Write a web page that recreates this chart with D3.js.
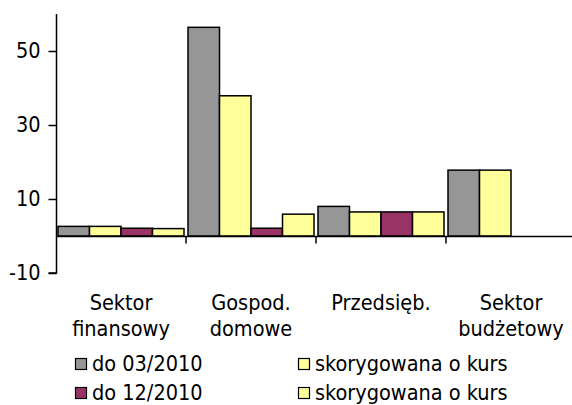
<!DOCTYPE html>
<html>
<head>
<meta charset="utf-8">
<script src="https://cdn.jsdelivr.net/npm/d3@7"></script>
<style>
  body { margin: 0; background: #fff; }
  svg text { font-family: "DejaVu Sans Condensed", "DejaVu Sans", sans-serif; font-stretch: condensed; fill: #000; }
</style>
</head>
<body>
<div id="chart"></div>
<script>
// categories (label lines)
let categories = [["Sektor", "finansowy"], ["Gospod.", "domowe"], ["Przedsięb."], ["Sektor", "budżetowy"]]
let seriesNames = ["do 03/2010", "skorygowana o kurs", "do 12/2010", "skorygowana o kurs"]
let grey0310 = [2.6, 56.4, 8.0, 17.8]
let adj0310 = [2.6, 37.9, 6.5, 17.8]
let purple1210 = [2.1, 2.1, 6.5, null]
let adj1210 = [2.0, 5.9, 6.5, null]
let yTicks = [-10, 10, 30, 50]

let seriesValues = [grey0310, adj0310, purple1210, adj1210]
let colors = ["#969696", "#FFFF99", "#993366", "#FFFF99"]

let width = 572, height = 405
let fontSize = 21.5
let svg = d3.select("#chart").append("svg")
  .attr("width", width)
  .attr("height", height)

let catIdx = categories.map((c, i) => i)
let xScale = d3.scaleBand()
  .domain(catIdx)
  .range([56, 576])
  .padding(0)
let x1 = d3.scaleBand()
  .domain(d3.range(seriesValues.length))
  .range([2, xScale.bandwidth() - 2])
  .padding(0)
let yScale = d3.scaleLinear()
  .domain([-10, 60])
  .range([273, 14])

// bars
let barsArea = svg.append("g")
seriesValues.forEach(function(vals, s) {
  let rows = vals.map((v, i) => ({cat: i, value: v})).filter(d => d.value != null)
  barsArea.selectAll(".s" + s).data(rows).enter()
    .append("rect")
    .attr("class", "s" + s)
    .attr("x", d => xScale(d.cat) + x1(s))
    .attr("y", d => yScale(Math.max(0, d.value)))
    .attr("width", x1.bandwidth())
    .attr("height", d => Math.abs(yScale(d.value) - yScale(0)))
    .attr("fill", colors[s])
    .attr("stroke", "#000")
    .attr("stroke-width", 1.5)
})

// value axis
let yAxis = d3.axisLeft(yScale).tickValues(yTicks).tickSize(8).tickPadding(8).tickFormat(d => String(d))
let yG = svg.append("g")
  .attr("transform", "translate(56.5,0)")
  .call(yAxis)
yG.select(".domain").attr("d", "M-8," + yScale(-10) + "H0V14").attr("stroke", "#000").attr("stroke-width", 1.5)
yG.selectAll(".tick line").attr("stroke", "#000").attr("stroke-width", 1.5)
yG.selectAll(".tick text").attr("font-size", fontSize)

// category axis at zero
let y0 = Math.round(yScale(0)) + 0.5
svg.append("line")
  .attr("x1", 56).attr("x2", width)
  .attr("y1", y0).attr("y2", y0)
  .attr("stroke", "#000").attr("stroke-width", 1.5)
svg.selectAll(".ctick").data(catIdx.slice(1)).enter()
  .append("line")
  .attr("x1", d => xScale(d)).attr("x2", d => xScale(d))
  .attr("y1", y0).attr("y2", y0 + 7)
  .attr("stroke", "#000").attr("stroke-width", 1.5)

let labels = svg.selectAll(".clabel").data(categories).enter()
  .append("text")
  .attr("text-anchor", "middle")
  .attr("font-size", fontSize)
labels.each(function(lines, i) {
  d3.select(this).selectAll("tspan").data(lines).enter()
    .append("tspan")
    .attr("x", xScale(i) + xScale.bandwidth() / 2)
    .attr("y", (d, k) => 310 + k * 26)
    .text(d => d)
})

// legend: 2 columns, row-major
let legendX = [75, 298]
let legendY = [371, 400]
let leg = svg.selectAll(".legend").data(seriesNames).enter()
  .append("g")
  .attr("transform", (d, i) => "translate(" + legendX[i % 2] + "," + legendY[Math.floor(i / 2)] + ")")
leg.append("rect")
  .attr("x", 0.5).attr("y", -12.5)
  .attr("width", 11).attr("height", 11)
  .attr("fill", (d, i) => colors[i])
  .attr("stroke", "#000").attr("stroke-width", 1.2)
leg.append("text")
  .attr("x", 17)
  .attr("y", 0)
  .attr("font-size", 21.5)
  .text(d => d)
</script>
</body>
</html>
